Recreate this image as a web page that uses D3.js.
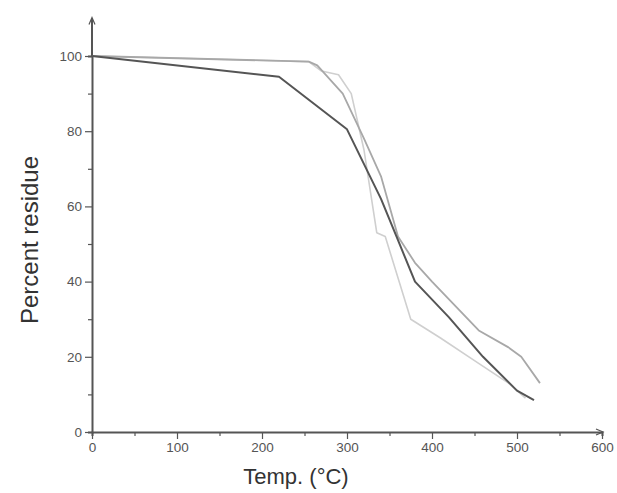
<!DOCTYPE html>
<html>
<head>
<meta charset="utf-8">
<script src="https://cdn.jsdelivr.net/npm/d3@7"></script>
<style>
  body { margin: 0; background: #fff; }
  svg { display: block; font-family: "Liberation Sans", Arial, sans-serif; }
  .tick text { fill: #555; font-size: 13.5px; }
  .axis-title { fill: #333; }
</style>
</head>
<body>
<div id="chart"></div>
<script>
// TGA curves: temperature (°C) vs percent residue
const tempA = [0, 220, 300, 340, 360, 380, 420, 460, 500, 520];
const residueA = [100, 94.5, 80.5, 62, 51, 40, 30.5, 20, 11, 8.5];

const tempB = [0, 255, 265, 295, 320, 340, 360, 380, 400, 455, 490, 505, 527];
const residueB = [100, 98.5, 97.5, 90, 78, 68, 52, 45, 40, 27, 22.5, 20, 13];

const tempC = [0, 255, 270, 290, 305, 320, 335, 345, 375, 410, 450, 490, 510];
const residueC = [100, 98.5, 96, 95, 90, 75, 53, 52, 30, 25, 19, 13, 9];

const xTicks = [0, 100, 200, 300, 400, 500, 600];
const yTicks = [0, 20, 40, 60, 80, 100];

const series = [
  { temps: tempC, values: residueC, color: "#cfcfcf", width: 1.6 },
  { temps: tempB, values: residueB, color: "#a8a8a8", width: 1.8 },
  { temps: tempA, values: residueA, color: "#555", width: 2 },
];

const width = 617, height = 493;
const svg = d3.select("#chart").append("svg").attr("width", width).attr("height", height);

const x = d3.scaleLinear().domain([0, 600]).range([92, 602]);
const y = d3.scaleLinear().domain([0, 100]).range([432, 56]);

const axisColor = "#555";

// x axis with minor ticks
const xAxisG = svg.append("g").attr("transform", `translate(0, ${y(0)})`);
xAxisG.call(d3.axisBottom(x).tickValues(d3.range(50, 600, 100)).tickSize(4).tickFormat(""));
xAxisG.call((g) => {
  const major = g.append("g");
  major.call(d3.axisBottom(x).tickValues(xTicks).tickSize(7).tickPadding(3).tickFormat(d3.format("d")));
  major.select(".domain").remove();
});
xAxisG.selectAll(".domain").attr("stroke", axisColor).attr("stroke-width", 2);
xAxisG.selectAll("line").attr("stroke", axisColor).attr("stroke-width", 1.2);

// y axis with minor ticks
const yAxisG = svg.append("g").attr("transform", `translate(${x(0)}, 0)`);
yAxisG.call(d3.axisLeft(y).tickValues(d3.range(10, 110, 20)).tickSize(4).tickFormat(""));
yAxisG.call((g) => {
  const major = g.append("g");
  major.call(d3.axisLeft(y).tickValues(yTicks).tickSize(7).tickPadding(3).tickFormat(d3.format("d")));
  major.select(".domain").remove();
});
yAxisG.selectAll(".domain").attr("stroke", axisColor).attr("stroke-width", 2);
yAxisG.selectAll("line").attr("stroke", axisColor).attr("stroke-width", 1.2);

// axis extensions with small arrow heads
svg.append("line")
  .attr("x1", x(0)).attr("x2", x(0))
  .attr("y1", y(100)).attr("y2", y(110))
  .attr("stroke", axisColor).attr("stroke-width", 2);
svg.append("path")
  .attr("d", `M${x(0) - 3},${y(110) + 6} L${x(0)},${y(110) - 1} L${x(0) + 3},${y(110) + 6}`)
  .attr("fill", "none").attr("stroke", axisColor).attr("stroke-width", 1.2);
svg.append("path")
  .attr("d", `M${x(600) - 6},${y(0) - 3} L${x(600) + 1},${y(0)} L${x(600) - 6},${y(0) + 3}`)
  .attr("fill", "none").attr("stroke", axisColor).attr("stroke-width", 1.2);

// curves
const line = d3.line().x((d) => x(d[0])).y((d) => y(d[1]));
svg.append("g").selectAll("path.curve").data(series).join("path")
  .attr("class", "curve")
  .attr("fill", "none")
  .attr("stroke", (d) => d.color)
  .attr("stroke-width", (d) => d.width)
  .attr("stroke-linejoin", "round")
  .attr("d", (d) => line(d.temps.map((t, i) => [t, d.values[i]])));

// axis titles
svg.append("text").attr("class", "axis-title")
  .attr("x", 296).attr("y", 484)
  .attr("text-anchor", "middle").attr("font-size", 22)
  .text("Temp. (°C)");
svg.append("text").attr("class", "axis-title")
  .attr("transform", `translate(38, 240) rotate(-90)`)
  .attr("text-anchor", "middle").attr("font-size", 24)
  .text("Percent residue");
</script>
</body>
</html>
